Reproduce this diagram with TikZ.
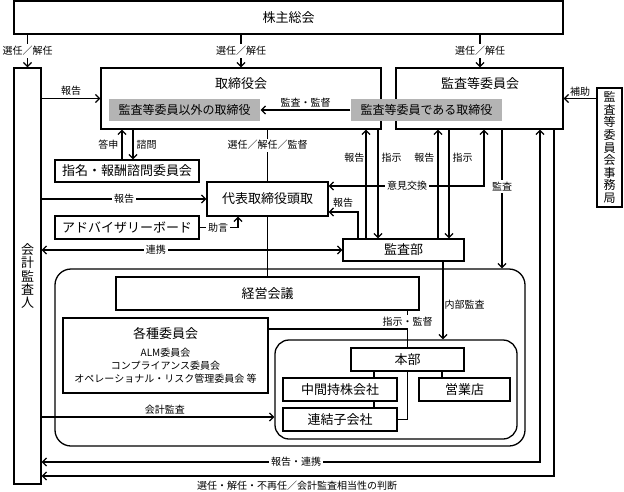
\documentclass[tikz,border=0pt]{standalone}
\usepackage{fontspec}
\setmainfont{Noto Sans CJK JP}
\usetikzlibrary{arrows.meta}
\definecolor{gfill}{RGB}{180,180,180}
\newcommand\bigf{\fontsize{13}{15}\selectfont}
\newcommand\midf{\fontsize{12}{14}\selectfont}
\newcommand\smallf{\fontsize{10}{12}\selectfont}
\newcommand\listf{\fontsize{10}{13}\selectfont}
\newcommand\vbigf{\fontsize{13}{13.2}\selectfont}
\newcommand\vmidf{\fontsize{12}{12.6}\selectfont}
\begin{document}
\begin{tikzpicture}[x=1pt,y=-1pt,line width=1.3pt,
  >={Straight Barb[length=4pt,width=8pt]},
  box/.style={draw,rectangle,inner sep=0pt,font=\bigf},
  gbox/.style={fill=gfill,draw=none,inner sep=0pt,font=\midf},
  rbox/.style={draw,rectangle,rounded corners=16pt,inner sep=0pt},
  lab/.style={font=\smallf,inner sep=1pt},
  wlab/.style={lab,fill=white,inner sep=2pt}]
\useasboundingbox (0,0) rectangle (624,491);

% boxes
\node[box,minimum width=549pt,minimum height=33pt] (sh) at (288.5,17.5) {株主総会};
\node[box,minimum width=27pt,minimum height=416pt,align=center,font=\vbigf] (kaikei) at (27.5,276) {会\\計\\監\\査\\人};
\node[box,minimum width=280pt,minimum height=61pt] (tb) at (241,98.5) {};
\node[font=\bigf,inner sep=0pt] (tbt) at (241,84) {取締役会};
\node[box,minimum width=167pt,minimum height=61pt] (kt) at (479.5,98.5) {};
\node[font=\bigf,inner sep=0pt] (ktt) at (480,84) {監査等委員会};
\node[gbox,minimum width=151pt,minimum height=22pt] (g1) at (184.5,110) {監査等委員以外の取締役};
\node[gbox,minimum width=151pt,minimum height=22pt] (g2) at (426.5,110) {監査等委員である取締役};
\node[box,minimum width=25pt,minimum height=119pt,align=center,font=\vmidf] (jimu) at (609.5,147.5) {監\\査\\等\\委\\員\\会\\事\\務\\局};
\node[box,minimum width=144pt,minimum height=22pt] (shimei) at (127,171) {指名・報酬諮問委員会};
\node[box,minimum width=121pt,minimum height=34pt] (daihyo) at (267.5,199) {代表取締役頭取};
\node[box,minimum width=144pt,minimum height=23pt] (adv) at (127,227.5) {アドバイザリーボード};
\node[box,minimum width=121pt,minimum height=22pt] (kansabu) at (403.5,250) {監査部};
\node[rbox,minimum width=470pt,minimum height=177pt] (outer) at (290,357.5) {};
\node[box,minimum width=303pt,minimum height=33pt] (keiei) at (267.5,293.5) {経営会議};
\node[box,minimum width=205pt,minimum height=75pt] (kakushu) at (165.5,355.5) {};
\node[font=\bigf,inner sep=0pt] (kakt) at (165.5,334) {各種委員会};
\node[font=\listf,align=center,inner sep=0pt] (kakl) at (165.5,365.5) {ALM委員会\\コンプライアンス委員会\\オペレーショナル・リスク管理委員会\ 等};
\node[rbox,rounded corners=14pt,minimum width=242pt,minimum height=99pt] (inner) at (396,389.5) {};
\node[box,minimum width=113pt,minimum height=23pt] (honbu) at (407.5,359.5) {本部};
\node[box,minimum width=114pt,minimum height=23pt] (chukan) at (340,389.5) {中間持株会社};
\node[box,minimum width=91pt,minimum height=23pt] (eigyo) at (464.5,389.5) {営業店};
\node[box,minimum width=114pt,minimum height=23pt] (renketsu) at (340,419.5) {連結子会社};

% top appointments
\draw[->] (sh.south -| kaikei.north) -- node[wlab]{選任／解任} (kaikei.north);
\draw[->] (sh.south -| tb.north) -- node[wlab]{選任／解任} (tb.north);
\draw[->] (sh.south -| 480,0) -- node[wlab]{選任／解任} (kt.north -| 480,0);

% board level
\draw[->] (kaikei.east |- tb.center) -- node[above,lab,yshift=1pt]{報告} (tb.west);
\draw[->] (g2.west) -- node[above,lab,yshift=1pt]{監査・監督} (g1.east);
\draw[->] (jimu.west |- kt.center) -- node[above,lab,yshift=1pt]{補助} (kt.east);
\draw[->] (shimei.north -| 122,0) -- node[left,lab,xshift=-2pt]{答申} (tb.south -| 122,0);
\draw[->] (tb.south -| 133,0) -- node[right,lab,xshift=2pt]{諮問} (shimei.north -| 133,0);
\draw (tb.south -| daihyo.north) -- node[wlab,pos=0.3]{選任／解任／監督} (daihyo.north);

% president level
\draw[->] (kaikei.east |- daihyo.west) -- node[wlab]{報告} (daihyo.west);
\draw[->] (adv.east) -- (adv.east -| 238,0) -- (daihyo.south -| 238,0);
\node[wlab] (jogen) at (218,228) {助言};
\draw[<->] (kaikei.east |- kansabu.west) -- node[wlab,pos=0.38]{連携} (kansabu.west);

% audit department links
\draw[->] (kansabu.north -| 366,0) -- node[pos=0.74,left,lab]{報告} (tb.south -| 366,0);
\draw[->] (tb.south -| 378,0) -- node[pos=0.26,right,lab,xshift=2pt]{指示} (kansabu.north -| 378,0);
\draw[->] (kansabu.north -| 438,0) -- node[pos=0.74,left,lab,xshift=-2pt]{報告} (kt.south -| 438,0);
\draw[->] (kt.south -| 449,0) -- node[pos=0.26,right,lab,xshift=2pt]{指示} (kansabu.north -| 449,0);
\draw[<->] (daihyo.east |- 0,186) -- (484,186) -- (kt.south -| 484,0);
\node[wlab] (iken) at (407,186) {意見交換};
\draw[->] (kansabu.north -| 358,0) -- (358,212) -- (daihyo.east |- 0,212);
\node[lab] (hk3) at (343,203) {報告};
\draw[->] (kt.south -| 502,0) -- node[wlab,pos=0.41]{監査} (outer.north -| 502,0);

% management
\draw (daihyo.south) -- (keiei.north);
\draw[->] (kansabu.south -| 443,0) -- node[right,lab,pos=0.55]{内部監査} (inner.north -| 443,0);
\draw (keiei.south -| honbu.north) -- node[wlab,pos=0.3]{指示・監督} (honbu.north);
\draw (kakushu.east |- 0,329) -- (honbu.north |- 0,329);
\draw (honbu.south -| 374,0) -- (chukan.north -| 374,0);
\draw (honbu.south -| 442,0) -- (eigyo.north -| 442,0);
\draw (chukan.south -| 374,0) -- (renketsu.north -| 374,0);
\draw (honbu.south) |- (renketsu.east);

% accounting auditor
\draw[->] (kaikei.east |- 0,417) -- node[above,lab,pos=0.53,yshift=1pt]{会計監査} (inner.west |- 0,417);
\draw[<->] (kaikei.east |- 0,462) -- (540,462) -- (kt.south -| 540,0);
\node[wlab] (hr) at (296,462) {報告・連携};
\draw[->] (kt.south -| 554,0) -- (554,476) -- (kaikei.east |- 0,476);
\node[lab] (bt) at (297,486) {選任・解任・不再任／会計監査相当性の判断};
\end{tikzpicture}
\end{document}
